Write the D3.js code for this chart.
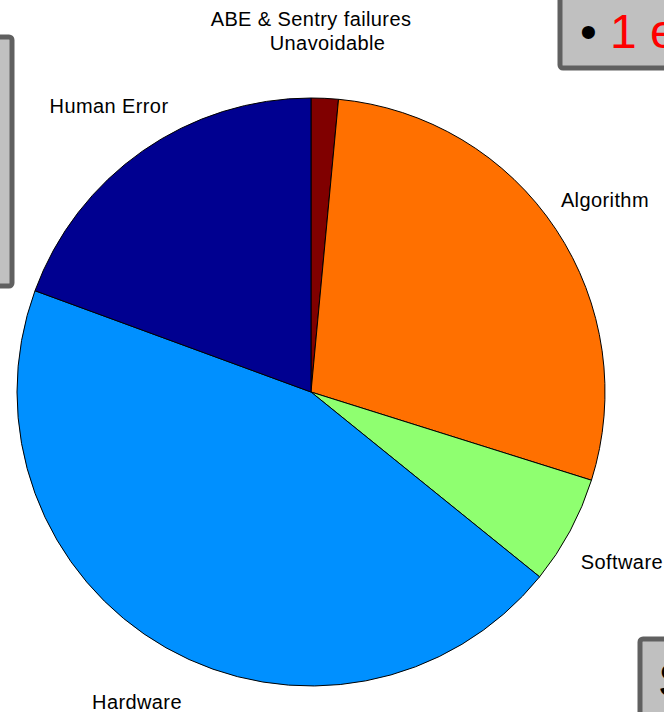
<!DOCTYPE html>
<html>
<head>
<meta charset="utf-8">
<script src="https://cdn.jsdelivr.net/npm/d3@7"></script>
<style>
  body { margin: 0; background: #fff; }
  svg { display: block; }
  .lbl { font-family: "Liberation Sans", Arial, Helvetica, sans-serif; font-size: 20px; fill: #000; letter-spacing: 0.4px; }
</style>
</head>
<body>
<svg id="chart" width="664" height="712"></svg>
<script>
// failure causes, clockwise from the top
var categories = ["ABE & Sentry failures", "Unavoidable", "Algorithm", "Software", "Hardware", "Human Error"];
var counts = [0, 1, 19, 4, 30, 13];
var colors = ["#00C0FF", "#800000", "#FF7000", "#8FFF70", "#0090FF", "#000090"];

var svg = d3.select("svg#chart"),
	width = +svg.attr("width"),
	height = +svg.attr("height");

// slide boxes behind the figure (cut off at the edges)
function slideBox(x, y, w, h) {
	svg.append("rect")
		.attr("x", x).attr("y", y)
		.attr("width", w).attr("height", h)
		.attr("rx", 3)
		.style("fill", "#C0C0C0")
		.style("stroke", "#606060")
		.style("stroke-width", 5);
}
slideBox(-20, 37, 32, 249);
slideBox(560, -20, 130, 88);
slideBox(640, 639, 60, 100);

svg.append("text")
	.attr("x", 580).attr("y", 48)
	.style("font-family", "Liberation Sans, Arial, sans-serif")
	.style("font-size", "48px")
	.style("fill", "#000")
	.text("\u2022");
svg.append("text")
	.attr("x", 610).attr("y", 48)
	.style("font-family", "Liberation Sans, Arial, sans-serif")
	.style("font-size", "48px")
	.style("fill", "#FF0000")
	.text("1 e");
svg.append("text")
	.attr("x", 658).attr("y", 697)
	.style("font-family", "Liberation Sans, Arial, sans-serif")
	.style("font-size", "48px")
	.style("fill", "#000")
	.text("S");

var cx = 311, cy = 392, radius = 294;
var g = svg.append("g").attr("transform", "translate(" + cx + "," + cy + ")");

var data = categories.map(function (c, i) {
	return { name: c, value: counts[i], color: colors[i] };
});

var pie = d3.pie()
	.sort(null)
	.value(function (d) { return d.value; })
	.startAngle(0)
	.endAngle(2 * Math.PI);

var arc = d3.arc().innerRadius(0).outerRadius(radius);
var labelArc = d3.arc().innerRadius(radius * 1.2).outerRadius(radius * 1.2);

var arcs = pie(data);

g.selectAll("path.slice")
	.data(arcs.filter(function (d) { return d.value > 0; }))
	.enter().append("path")
	.attr("class", "slice")
	.attr("d", arc)
	.style("fill", function (d) { return d.data.color; })
	.style("stroke", "#000")
	.style("stroke-width", 1)
	.style("stroke-linejoin", "round");

// labels sit at 1.2 x radius, centred
var labels = g.selectAll("text.lbl")
	.data(arcs)
	.enter().append("text")
	.attr("class", "lbl")
	.attr("text-anchor", "middle")
	.attr("dy", "0.5em")
	.attr("transform", function (d) { return "translate(" + labelArc.centroid(d) + ")"; })
	.text(function (d) { return d.data.name; });

// push overlapping labels upward
var nodes = labels.nodes();
for (var i = 0; i < nodes.length; i++) {
	for (var j = i + 1; j < nodes.length; j++) {
		var a = nodes[i].getBoundingClientRect(), b = nodes[j].getBoundingClientRect();
		if (a.left < b.right && b.left < a.right && a.top < b.bottom && b.top < a.bottom) {
			var c = labelArc.centroid(arcs[i]);
			var shift = b.top - a.bottom - 2;
			d3.select(nodes[i]).attr("transform", "translate(" + c[0] + "," + (c[1] + shift) + ")");
		}
	}
}
</script>
</body>
</html>
